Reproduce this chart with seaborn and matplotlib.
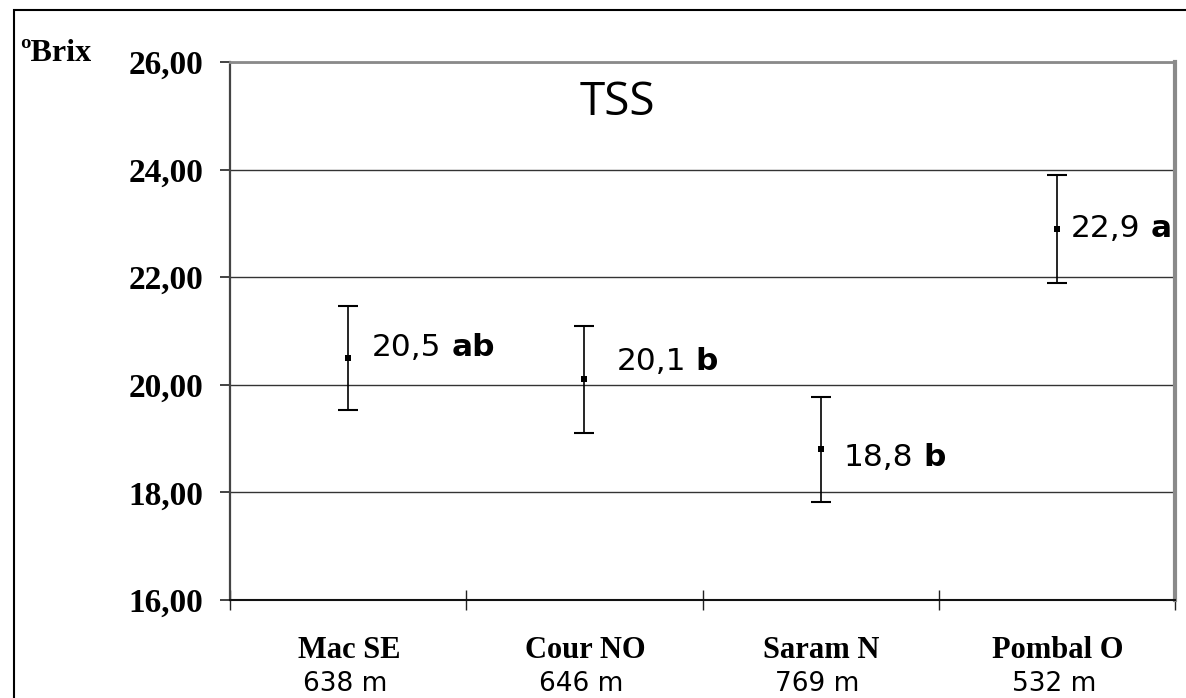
import matplotlib
matplotlib.use("Agg")
import matplotlib.pyplot as plt
from matplotlib.patches import Rectangle
import seaborn as sns
import pandas as pd

# Total soluble solids per vineyard site
sites = ["Mac SE", "Cour NO", "Saram N", "Pombal O"]
altitudes = ["638 m", "646 m", "769 m", "532 m"]
means = [20.5, 20.1, 18.8, 22.9]
errors = [0.97, 0.99, 0.97, 1.0]
letters = ["ab", "b", "b", "a"]
y_ticks = [16, 18, 20, 22, 24, 26]

df = pd.DataFrame({"site": sites, "x": range(len(sites)), "tss": means, "err": errors})

sns.set_style("white")
plt.rcParams["font.family"] = ["DejaVu Sans"]
plt.rcParams["text.color"] = "black"
plt.rcParams["xtick.color"] = "black"
plt.rcParams["ytick.color"] = "black"
plt.rcParams["axes.labelcolor"] = "black"

W, H = 1186, 698
fig = plt.figure(figsize=(W / 100, H / 100), dpi=100)
ax = fig.add_axes([230 / W, 1 - 600 / H, (1175 - 230) / W, (600 - 62) / H])

# error bars and mean markers
ax.errorbar(df["x"], df["tss"], yerr=df["err"], fmt="none", ecolor="black",
            elinewidth=1.2, capsize=7, capthick=1.5, zorder=3)
sns.scatterplot(data=df, x="x", y="tss", marker="s", s=14, color="black",
                edgecolor="black", linewidth=0, ax=ax, zorder=4, legend=False)

ax.set_xlim(-0.5, len(sites) - 0.5)
ax.set_ylim(16, 26)
ax.set_xlabel("")
ax.set_ylabel("")

# y axis: serif bold labels with decimal comma
ax.set_yticks(y_ticks)
ax.set_yticklabels([f"{v:.2f}".replace(".", ",") for v in y_ticks],
                   fontfamily="Liberation Serif", fontweight="bold", fontsize=24,
                   color="black")
ax.tick_params(axis="y", direction="out", length=7.2, width=1.2, color="#222222",
               pad=12, left=True)

# x axis: ticks on category boundaries, labels drawn separately
bounds = [i - 0.5 for i in range(len(sites) + 1)]
ax.set_xticks(bounds)
ax.set_xticklabels([])
ax.tick_params(axis="x", direction="inout", length=14.4, width=1.0, color="#222222",
               bottom=True)

ax.set_axisbelow(True)
ax.yaxis.grid(True, color="#333333", linewidth=1.0)
ax.xaxis.grid(False)

ax.spines["left"].set_color("#444444")
ax.spines["left"].set_linewidth(1.6)
ax.spines["bottom"].set_color("#111111")
ax.spines["bottom"].set_linewidth(1.5)
ax.spines["top"].set_color("#8a8a8a")
ax.spines["top"].set_linewidth(2.0)
ax.spines["right"].set_color("#8a8a8a")
ax.spines["right"].set_linewidth(3.0)

for i, (name, alt) in enumerate(zip(sites, altitudes)):
    ax.annotate(name, xy=(i, 0), xycoords=("data", "axes fraction"),
                xytext=(1, -58), textcoords="offset pixels", ha="center", va="baseline",
                fontfamily="Liberation Serif", fontweight="bold", fontsize=22,
                color="black")
    ax.annotate(alt, xy=(i, 0), xycoords=("data", "axes fraction"),
                xytext=(-3, -91), textcoords="offset pixels", ha="center", va="baseline",
                fontfamily="DejaVu Sans", fontsize=19, color="black",
                annotation_clip=False)

# value labels with significance letters
label_offsets = [(24, 10), (32, 18), (23, -8), (14, 0)]
for i, (m, let) in enumerate(zip(means, letters)):
    dx, dy = label_offsets[i]
    num = ax.annotate(f"{m:.1f}".replace(".", ","), xy=(i, m), xycoords="data",
                      xytext=(dx, dy), textcoords="offset pixels", ha="left",
                      va="center", fontsize=22.5, color="black")
    ax.annotate(let, xy=(1, 0), xycoords=num, xytext=(10, 0),
                textcoords="offset pixels", ha="left", va="bottom",
                fontsize=22.5, fontweight="bold", color="black")

# figure texts
fig.text(617 / W, 1 - 115 / H, "TSS", ha="center", va="baseline",
         fontfamily="Open Sans", fontsize=33, color="black")
fig.text(20 / W, 1 - 61 / H, "ºBrix", ha="left", va="baseline",
         fontfamily="Liberation Serif", fontweight="bold", fontsize=23, color="black")

# outer frame
fig.patches.append(Rectangle((14 / W, -0.1), 1.2, 1 - 10 / H + 0.1,
                             transform=fig.transFigure, fill=False,
                             edgecolor="black", linewidth=1.5))

fig.savefig("out.png", dpi=100)
